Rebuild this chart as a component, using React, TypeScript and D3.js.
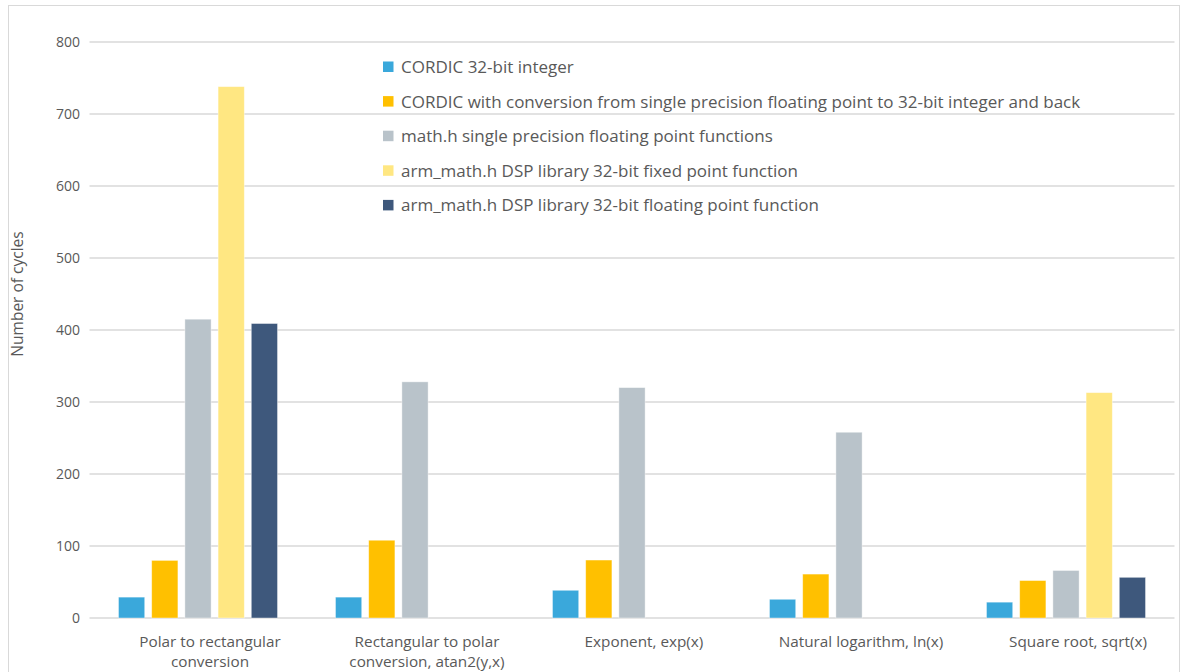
import React, { useEffect, useRef } from 'react';
import * as d3 from 'd3';

// categories and their wrapped tick labels
const categories = ['Polar', 'Rectangular', 'Exponent', 'Logarithm', 'Sqrt'];
const categoryLabels = [
  ['Polar to rectangular', 'conversion'],
  ['Rectangular to polar', 'conversion, atan2(y,x)'],
  ['Exponent, exp(x)'],
  ['Natural logarithm, ln(x)'],
  ['Square root, sqrt(x)'],
];

const seriesNames = [
  'CORDIC 32-bit integer',
  'CORDIC with conversion from single precision floating point to 32-bit integer and back',
  'math.h single precision floating point functions',
  'arm_math.h DSP library 32-bit fixed point function',
  'arm_math.h DSP library 32-bit floating point function',
];
const seriesColors = ['#3aa8db', '#ffc000', '#b9c3ca', '#ffe782', '#3e587c'];

// null = no bar for that category
const cordicInt = [29, 29, 38.5, 26, 22];
const cordicConv = [80, 108, 80.5, 61, 52];
const mathH = [415, 328, 320, 258, 66];
const armFixed = [738, null, null, null, 313];
const armFloat = [409, null, null, null, 56.5];
const seriesValues = [cordicInt, cordicConv, mathH, armFixed, armFloat];

const yTicks = [0, 100, 200, 300, 400, 500, 600, 700, 800];
const yTitle = 'Number of cycles';

export default function App() {
  const svgRef = useRef<SVGSVGElement>(null);

  useEffect(() => {
    const svg = d3.select(svgRef.current);
    svg.selectAll('*').remove();

    const width = 1188;
    const height = 672;
    const margin = { top: 42, right: 13.5, bottom: 54, left: 89.5 };
    const font = '"Open Sans", sans-serif';
    const textColor = '#595959';

    svg.append('rect')
      .attr('x', 8.5).attr('y', 5.5)
      .attr('width', 1171).attr('height', 700)
      .attr('fill', '#fff').attr('stroke', '#d9d9d9');

    const x0 = d3.scaleBand()
      .domain(categories)
      .range([margin.left, width - margin.right])
      .paddingInner(0.235)
      .paddingOuter(0.1175);

    const x1 = d3.scaleBand()
      .domain(seriesNames)
      .range([0, x0.bandwidth()])
      .paddingInner(0.21)
      .paddingOuter(0.105);

    const y = d3.scaleLinear()
      .domain([0, 800])
      .range([height - margin.bottom, margin.top]);

    // gridlines
    svg.append('g')
      .selectAll('line')
      .data(yTicks)
      .join('line')
      .attr('x1', margin.left).attr('x2', width - margin.right)
      .attr('y1', d => y(d)).attr('y2', d => y(d))
      .attr('stroke', '#d9d9d9').attr('stroke-width', 1.5);

    // y tick labels
    svg.append('g')
      .selectAll('text')
      .data(yTicks)
      .join('text')
      .attr('x', 80)
      .attr('y', d => y(d))
      .attr('dy', '0.35em')
      .attr('text-anchor', 'end')
      .attr('font-family', font)
      .attr('font-size', 14)
      .attr('fill', textColor)
      .text(d => d);

    svg.append('text')
      .attr('transform', 'translate(23,294) rotate(-90)')
      .attr('text-anchor', 'middle')
      .attr('font-family', font)
      .attr('font-size', 15.5)
      .attr('fill', textColor)
      .text(yTitle);

    // bars
    const bars = categories.flatMap((c, ci) =>
      seriesNames.map((s, si) => ({ c, s, si, v: seriesValues[si][ci] }))
    ).filter(d => d.v != null);

    svg.append('g')
      .selectAll('rect')
      .data(bars)
      .join('rect')
      .attr('x', d => (x0(d.c) as number) + (x1(d.s) as number))
      .attr('y', d => y(d.v as number))
      .attr('width', x1.bandwidth())
      .attr('height', d => y(0) - y(d.v as number))
      .attr('fill', d => seriesColors[d.si])
      .attr('stroke', '#ffffff')
      .attr('stroke-opacity', 0.5)
      .attr('stroke-width', 0.8);

    // x labels
    const xl = svg.append('g');
    categories.forEach((c, i) => {
      const cx = (x0(c) as number) + x0.bandwidth() / 2 + 12;
      categoryLabels[i].forEach((line, li) => {
        xl.append('text')
          .attr('x', cx)
          .attr('y', 647 + li * 20)
          .attr('text-anchor', 'middle')
          .attr('font-family', font)
          .attr('font-size', 15.3)
          .attr('fill', textColor)
          .text(line);
      });
    });

    // legend
    const legend = svg.append('g');
    seriesNames.forEach((name, i) => {
      const cy = 67 + i * 34.6;
      legend.append('rect')
        .attr('x', 383).attr('y', cy - 5.5)
        .attr('width', 10.5).attr('height', 10.5)
        .attr('fill', seriesColors[i]);
      legend.append('text')
        .attr('x', 401)
        .attr('y', cy)
        .attr('dy', '0.35em')
        .attr('font-family', font)
        .attr('font-size', 17)
        .attr('fill', textColor)
        .text(name);
    });
  }, []);

  return (
    <svg
      ref={svgRef}
      width={1188}
      height={672}
      style={{ position: 'absolute', left: 0, top: 0, background: '#fff' }}
    />
  );
}
